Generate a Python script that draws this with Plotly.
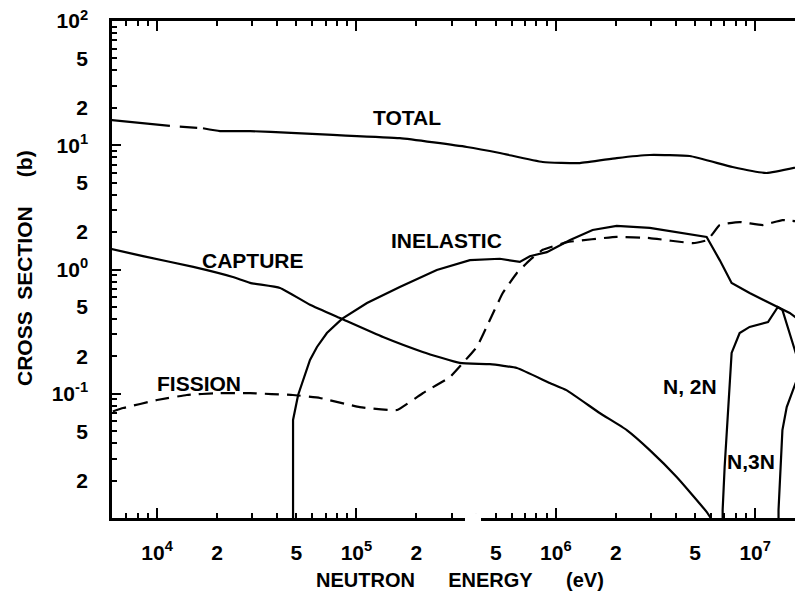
import plotly.graph_objects as go

# ---------------- data ----------------
total_E = [5.8e3, 1.16e4, None, 1.3e4, 1.59e4, None, 1.7e4, 2.07e4, 2.93e4, 4.7e4, 7.62e4,
           1.65e5, 3.58e5, 5.24e5, 8.6e5, 1.32e6, 2.02e6, 2.96e6, 4.7e6, 7.7e6, 1.14e7, 1.8e7]
total_s = [16.0, 14.3, None, 14.1, 13.8, None, 13.7, 13.0, 13.0, 12.6, 12.1,
           11.4, 9.68, 8.66, 7.33, 7.19, 7.89, 8.35, 8.19, 6.68, 5.98, 6.9]

capture_E = [5.9e3, 8.5e3, 1.52e4, 2.4e4, 2.93e4, 4.14e4, 5.85e4, 8.46e4, 1.36e5, 2.15e5,
             3.3e5, 4.67e5, 6.38e5, 9.33e5, 1.13e6, 1.66e6, 2.27e6, 2.96e6, 4.04e6, 5.71e6, 6.3e6]
capture_s = [1.46, 1.28, 1.05, 0.87, 0.78, 0.71, 0.52, 0.40, 0.286, 0.217,
             0.177, 0.173, 0.161, 0.122, 0.107, 0.070, 0.051, 0.0352, 0.0214, 0.0112, 0.0088]

fission_E = [6.0e3, 6.76e3, 1e4, 1.41e4, 2e4, 2.93e4, 4.8e4, 6.56e4, 1.04e5, 1.6e5,
             2.15e5, 2.94e5, 3.42e5, 4.02e5, 4.67e5, 5.42e5, 6.38e5, 7.41e5, 8.6e5, 1.14e6,
             2.02e6, 2.96e6, 4.86e6, 5.78e6, 6.64e6, 8.36e6, 1.09e7, 1.37e7, 1.8e7]
fission_s = [0.072, 0.0767, 0.089, 0.0977, 0.101, 0.101, 0.0977, 0.0925, 0.078, 0.074,
             0.101, 0.136, 0.177, 0.238, 0.392, 0.647, 0.938, 1.19, 1.44, 1.66,
             1.83, 1.79, 1.63, 1.73, 2.28, 2.41, 2.28, 2.50, 2.40]

inelastic_E = [4.81e4, 4.81e4, 5.1e4, 5.85e4, 6.34e4, 7.11e4, 8.46e4, 1.13e5, 1.65e5, 2.53e5,
               3.71e5, 5.24e5, 6.6e5, 7.41e5, 9.02e5, 1.18e6, 1.53e6, 2.02e6, 2.96e6, 5.71e6,
               6.64e6, 7.62e6, 9.38e6, 1.30e7, 1.49e7, 1.8e7]
inelastic_s = [0.009, 0.0615, 0.0977, 0.187, 0.238, 0.308, 0.40, 0.537, 0.722, 0.99,
               1.19, 1.22, 1.15, 1.28, 1.38, 1.73, 2.08, 2.24, 2.16, 1.83,
               1.19, 0.778, 0.647, 0.499, 0.447, 0.357]

n2n_E = [6.87e6, 6.87e6, 7.03e6, 7.28e6, 7.62e6, 8.36e6, 9.38e6, 1.16e7, 1.30e7, 1.37e7, 1.67e7, 1.8e7]
n2n_s = [0.009, 0.0116, 0.0257, 0.065, 0.213, 0.308, 0.345, 0.378, 0.499, 0.472, 0.164, 0.115]

n3n_E = [1.31e7, 1.31e7, 1.37e7, 1.44e7, 1.58e7, 1.67e7, 1.8e7]
n3n_s = [0.009, 0.0116, 0.051, 0.078, 0.117, 0.147, 0.184]

# ---------------- ticks ----------------
x_decades = [1e4, 1e5, 1e6, 1e7]
x_minor = [6e3, 7e3, 8e3, 9e3,
           2e4, 3e4, 4e4, 5e4, 6e4, 7e4, 8e4, 9e4,
           2e5, 3e5, 4e5, 5e5, 6e5, 7e5, 8e5, 9e5,
           2e6, 3e6, 4e6, 5e6, 6e6, 7e6, 8e6, 9e6]
x_label_vals = [1e4, 2e4, 5e4, 1e5, 2e5, 5e5, 1e6, 2e6, 5e6, 1e7]
x_label_text = ["10<sup>4</sup>", "2", "5", "10<sup>5</sup>", "2", "5",
                "10<sup>6</sup>", "2", "5", "10<sup>7</sup>"]

y_decades = [1e-2, 1e-1, 1e0, 1e1, 1e2]
y_minor = [2e-2, 3e-2, 4e-2, 5e-2, 6e-2, 7e-2, 8e-2, 9e-2,
           2e-1, 3e-1, 4e-1, 5e-1, 6e-1, 7e-1, 8e-1, 9e-1,
           2, 3, 4, 5, 6, 7, 8, 9,
           20, 30, 40, 50, 60, 70, 80, 90]
y_label_vals = [0.02, 0.05, 0.1, 0.2, 0.5, 1, 2, 5, 10, 20, 50, 100]
y_label_text = ["2", "5", "10<sup>-1</sup>", "2", "5", "10<sup>0</sup>",
                "2", "5", "10<sup>1</sup>", "2", "5", "10<sup>2</sup>"]

FONT = "Liberation Sans"


def tick_arrays(minor, decades, label_vals, label_text):
    vals = sorted(minor + decades)
    lab = dict(zip(label_vals, label_text))
    text = [lab.get(v, "") for v in vals]
    return vals, text


xv, xt = tick_arrays(x_minor, x_decades, x_label_vals, x_label_text)
yv, yt = tick_arrays(y_minor, y_decades, y_label_vals, y_label_text)

fig = go.Figure()
line_solid = dict(color="black", width=2.2)
line_smooth = dict(color="black", width=2.2, shape="spline", smoothing=0.4)
line_dash = dict(color="black", width=2.2, dash="14px,8px", shape="spline", smoothing=0.3)

fig.add_trace(go.Scatter(x=total_E, y=total_s, mode="lines", line=line_smooth, connectgaps=False))
fig.add_trace(go.Scatter(x=capture_E, y=capture_s, mode="lines", line=line_smooth))
fig.add_trace(go.Scatter(x=fission_E, y=fission_s, mode="lines", line=line_dash))
fig.add_trace(go.Scatter(x=inelastic_E, y=inelastic_s, mode="lines", line=line_solid))
fig.add_trace(go.Scatter(x=n2n_E, y=n2n_s, mode="lines", line=line_solid))
fig.add_trace(go.Scatter(x=n3n_E, y=n3n_s, mode="lines", line=line_solid))

tickfont = dict(family=FONT, size=21, color="black", weight="bold")

fig.update_xaxes(
    type="log", range=[3.774, 7.24],
    showgrid=False, zeroline=False, automargin=False,
    showline=True, linecolor="black", linewidth=2.5, mirror="ticks",
    ticks="inside", ticklen=5, tickwidth=2, tickcolor="black",
    tickmode="array", tickvals=xv, ticktext=xt,
    tickfont=tickfont, ticklabelstandoff=14, ticklabeloverflow="allow",
    minor=dict(tickmode="array", tickvals=x_decades, ticks="inside",
               ticklen=10, tickwidth=2, tickcolor="black", showgrid=False),
)
fig.update_yaxes(
    type="log", range=[-2, 2],
    showgrid=False, zeroline=False, automargin=False,
    showline=True, linecolor="black", linewidth=2.5, mirror=False,
    ticks="inside", ticklen=5, tickwidth=2, tickcolor="black",
    tickmode="array", tickvals=yv, ticktext=yt,
    tickfont=tickfont, ticklabelstandoff=17, ticklabeloverflow="allow",
    minor=dict(tickmode="array", tickvals=y_decades, ticks="inside",
               ticklen=9, tickwidth=2, tickcolor="black", showgrid=False),
)

# The page has an 8px body margin: lay out in screen pixels and shift.
OFF = 8
W, H = 803 - OFF, 601 - OFF
L = 112 - OFF
T = 21 - OFF
R = 0
B = H - (518 - OFF)
pw, ph = W - L - R, H - T - B


def px2paper(x, y):
    fx, fy = x - OFF, y - OFF
    return (fx - L) / pw, (H - B - fy) / ph


labfont = dict(family=FONT, size=21, color="black", weight="bold")
labels = [
    ("TOTAL", 407, 118),
    ("CAPTURE", 253, 260),
    ("INELASTIC", 446, 240),
    ("FISSION", 199, 383),
    ("N, 2N", 690, 386),
    ("N,3N", 751, 461),
]
for txt, x, y in labels:
    px, py = px2paper(x, y)
    fig.add_annotation(text=txt, x=px, y=py, xref="paper", yref="paper",
                       showarrow=False, font=labfont, xanchor="center", yanchor="middle")

NB = "\u00a0"
tx, ty = px2paper(460, 580)
fig.add_annotation(text="NEUTRON" + NB * 6 + "ENERGY" + NB * 6 + "(eV)",
                   x=tx, y=ty, xref="paper", yref="paper", showarrow=False,
                   font=dict(family=FONT, size=20, color="black", weight="bold"),
                   xanchor="center", yanchor="middle")
ax_, ay_ = px2paper(24, 268)
fig.add_annotation(text="CROSS" + NB * 2 + "SECTION" + NB * 5 + "(b)",
                   x=ax_, y=ay_, xref="paper", yref="paper", showarrow=False, textangle=-90,
                   font=dict(family=FONT, size=21, color="black", weight="bold"),
                   xanchor="center", yanchor="middle")

# break in the bottom axis line
g0, _ = px2paper(465, 0)
g1, _ = px2paper(481, 0)
fig.add_shape(type="rect", xref="paper", yref="paper", x0=g0, x1=g1, y0=-0.01, y1=0.01,
              fillcolor="white", line=dict(width=0), layer="above")

fig.update_layout(
    width=W, height=H,
    margin=dict(l=L, r=R, t=T, b=B, pad=0, autoexpand=False),
    paper_bgcolor="white", plot_bgcolor="white",
    showlegend=False,
    font=dict(family=FONT, color="black"),
)

fig.write_html("out.html")
